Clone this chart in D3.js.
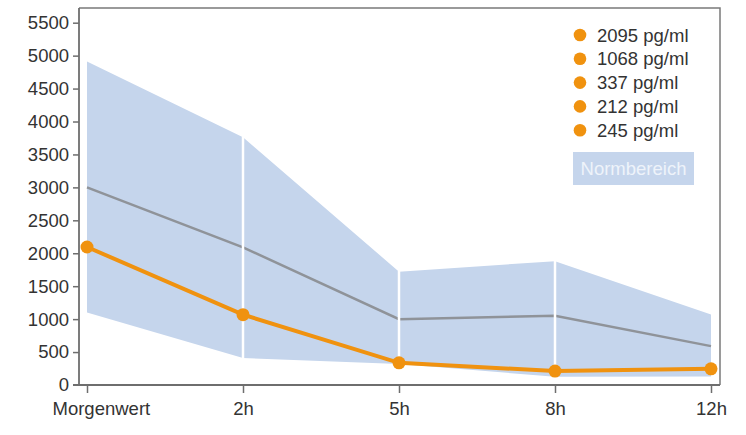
<!DOCTYPE html>
<html>
<head>
<meta charset="utf-8">
<script src="https://cdn.jsdelivr.net/npm/d3@7"></script>
<style>
  body { margin: 0; background: #fff; }
  svg text { font-family: "Liberation Sans", Arial, sans-serif; }
</style>
</head>
<body>
<svg id="chart" width="746" height="435"></svg>
<script>
// data
const categories = ['Morgenwert', '2h', '5h', '8h', '12h'];
const patientValues = [2095, 1068, 337, 212, 245];
const normMean = [3000, 2090, 1000, 1050, 590];
const normUpper = [4910, 3760, 1720, 1880, 1070];
const normLower = [1100, 410, 320, 125, 130];
const yTicks = [0, 500, 1000, 1500, 2000, 2500, 3000, 3500, 4000, 4500, 5000, 5500];
const legendLabels = patientValues.map(v => v + ' pg/ml');
const normLabel = 'Normbereich';

const frame = { left: 79, right: 720, top: 8, bottom: 385 };

const svg = d3.select('#chart');

const x = d3.scalePoint()
    .domain(categories)
    .range([87, 711]);

const y = d3.scaleLinear()
    .domain([0, 5500])
    .range([frame.bottom, 22.7]);

const rows = categories.map((c, i) => ({
    cat: c, v: patientValues[i], mean: normMean[i], hi: normUpper[i], lo: normLower[i]
}));

// frame (top + right)
svg.append('path')
    .attr('d', `M${frame.left},${frame.top}H${frame.right}V${frame.bottom}`)
    .attr('fill', 'none')
    .attr('stroke', '#7a7a7a')
    .attr('stroke-width', 1.5);

// norm band
const area = d3.area()
    .x(d => x(d.cat))
    .y0(d => y(d.lo))
    .y1(d => y(d.hi));

svg.append('path')
    .datum(rows)
    .attr('d', area)
    .attr('fill', '#c5d5ec');

// mean line
svg.append('path')
    .datum(rows)
    .attr('d', d3.line().x(d => x(d.cat)).y(d => y(d.mean)))
    .attr('fill', 'none')
    .attr('stroke', '#8f9399')
    .attr('stroke-width', 2.5);

// white separators inside the band
svg.selectAll('line.sep')
    .data(rows.slice(1, -1))
    .enter()
    .append('line')
    .attr('class', 'sep')
    .attr('x1', d => x(d.cat))
    .attr('x2', d => x(d.cat))
    .attr('y1', d => y(d.hi) - 1)
    .attr('y2', d => y(d.lo) + 1)
    .attr('stroke', '#fff')
    .attr('stroke-width', 2.5);

// axes
const xAxis = svg.append('g')
    .attr('transform', `translate(0,${frame.bottom})`)
    .call(d3.axisBottom(x).tickSize(8).tickSizeOuter(0));
xAxis.select('.domain').remove();
xAxis.append('line')
    .attr('x1', 73).attr('x2', frame.right)
    .attr('stroke', '#6e6e6e').attr('stroke-width', 1.8);

const yAxis = svg.append('g')
    .attr('transform', `translate(${frame.left},0)`)
    .call(d3.axisLeft(y).tickValues(yTicks).tickFormat(d3.format('d')).tickSize(6).tickSizeOuter(0));
yAxis.select('.domain').remove();
yAxis.append('line')
    .attr('y1', frame.top).attr('y2', frame.bottom)
    .attr('stroke', '#6e6e6e').attr('stroke-width', 1.8);

svg.selectAll('.tick line').attr('stroke', '#6e6e6e').attr('stroke-width', 1.5);
svg.selectAll('.tick text')
    .attr('fill', '#333')
    .style('font-size', '18.5px');
xAxis.selectAll('.tick text').attr('y', 17);
// first label is pushed right so it stays inside the picture
xAxis.selectAll('.tick').filter((d, i) => i === 0).select('text')
    .attr('text-anchor', 'start').attr('x', -35);
yAxis.selectAll('.tick text').attr('x', -10);
yAxis.selectAll('.tick').filter(d => d === 0).select('line').remove();

// patient line
svg.append('path')
    .datum(rows)
    .attr('d', d3.line().x(d => x(d.cat)).y(d => y(d.v)))
    .attr('fill', 'none')
    .attr('stroke', '#f0920f')
    .attr('stroke-width', 4);

svg.selectAll('circle.pt')
    .data(rows)
    .enter()
    .append('circle')
    .attr('class', 'pt')
    .attr('cx', d => x(d.cat))
    .attr('cy', d => y(d.v))
    .attr('r', 6.5)
    .attr('fill', '#f0920f');

// legend
const legend = svg.append('g').attr('transform', 'translate(580,35)');
legend.selectAll('circle')
    .data(legendLabels)
    .enter()
    .append('circle')
    .attr('cx', 0)
    .attr('cy', (d, i) => i * 23.8)
    .attr('r', 6.3)
    .attr('fill', '#f0920f');
legend.selectAll('text')
    .data(legendLabels)
    .enter()
    .append('text')
    .attr('x', 17)
    .attr('y', (d, i) => i * 23.8 + 6.5)
    .attr('fill', '#333')
    .style('font-size', '18.5px')
    .text(d => d);

svg.append('rect')
    .attr('x', 573).attr('y', 152)
    .attr('width', 121).attr('height', 33)
    .attr('fill', '#c5d5ec');
svg.append('text')
    .attr('x', 633.5).attr('y', 175)
    .attr('text-anchor', 'middle')
    .attr('fill', '#eef3fa')
    .style('font-size', '18.5px')
    .text(normLabel);
</script>
</body>
</html>
